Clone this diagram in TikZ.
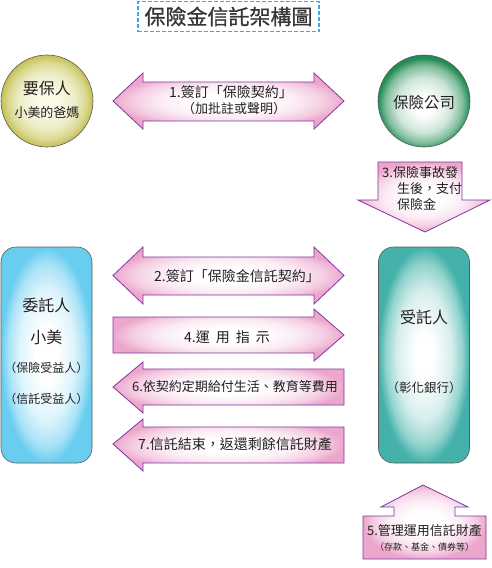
\documentclass[tikz,border=0pt]{standalone}
\usepackage{fontspec}
\setmainfont{Noto Sans CJK TC}
\newfontfamily\titlefont{Noto Sans CJK TC}[FakeBold=1]
\usepackage{xcolor}
\usepackage{tikz}
\usetikzlibrary{positioning,calc}

\definecolor{ink}{RGB}{35,31,32}
\definecolor{titleblue}{RGB}{60,170,225}
\definecolor{arrowpink}{RGB}{236,166,204}
\definecolor{arrowline}{RGB}{125,55,165}
\definecolor{olive}{RGB}{196,192,84}
\definecolor{olivein}{RGB}{250,250,232}
\definecolor{leaf}{RGB}{34,140,84}
\definecolor{sky}{RGB}{105,205,240}
\definecolor{teal}{RGB}{68,178,170}
% the path box is met at 25bp
\newcommand{\makeglow}[5]{\pgfdeclareradialshading{#1}{\pgfpoint{0bp}{#4}}{color(0bp)=(#2); color(#5)=(#2); color(15bp)=(#3!22!#2); color(21bp)=(#3!58!#2); color(25bp)=(#3); color(50bp)=(#3)}}
\makeglow{pinkglow}{white}{arrowpink}{0bp}{7bp}
\makeglow{yellowglow}{olivein}{olive}{0bp}{5bp}
\makeglow{greenglow}{white}{leaf}{-3bp}{5bp}
\makeglow{skyglow}{white}{sky}{0bp}{6bp}
\makeglow{tealglow}{white}{teal}{0bp}{5bp}

\begin{document}
\begin{tikzpicture}[x=1pt,y=-1pt,
    lbl/.style={font=\fontsize{13}{15}\selectfont, text=ink, inner sep=0pt},
    bigarrow/.style={draw=arrowline, line width=0.8pt, shading=pinkglow},
    ball/.style={circle, draw=black!65, line width=0.6pt, minimum size=92pt, inner sep=0pt},
    party/.style={rectangle, rounded corners=15pt, draw=black!65, line width=0.6pt, minimum width=91pt, minimum height=216pt, inner sep=0pt}]
    \useasboundingbox (0,0) rectangle (491,568);

    % Title
    \node[draw=titleblue, dash pattern=on 4pt off 2pt, line width=1.2pt, minimum width=181pt, minimum height=30pt, inner sep=0pt, text=ink!90, font=\titlefont\fontsize{21}{21}\selectfont] (title) at (228.5,16.5) {保險金信託架構圖};

    % Step 1: policy holder and insurer
    \node[ball, shading=yellowglow] (holder) at (47,101) {};
    \node[lbl, font=\fontsize{16}{16}\selectfont] (holdername) at (47,88) {要保人};
    \node[lbl] (holderwho) at (47,113) {小美的爸媽};

    \node[ball, shading=greenglow] (insurer) at (424,101) {};
    \node[lbl, font=\fontsize{15.5}{16}\selectfont] (insurername) at (424,103) {保險公司};

    % Arrow 1
    \path[bigarrow] (113,101) -- (143,73) -- (143,82) -- (314,82) -- (314,73) -- (344,101)
        -- (314,129) -- (314,121) -- (143,121) -- (143,129) -- cycle;
    \node[lbl, font=\fontsize{14}{15}\selectfont] (policy) at (231,92) {1.簽訂「保險契約」};
    \node[lbl] (policynote) at (234,109) {（加批註或聲明）};

    % Arrow 3
    \path[bigarrow] (378,162) -- (462,162) -- (462,200) -- (490,200) -- (425,232)
        -- (358,200) -- (378,200) -- cycle;
    \node[lbl, align=left, anchor=north west, font=\fontsize{13}{16}\selectfont] (payout) at (382,166)
        {3.保險事故發\\\hspace{15pt}生後，支付\\\hspace{15pt}保險金};

    % Step 2: settlor and trustee
    \node[party, shading=skyglow] (settlor) at (46.5,355) {};
    \node[lbl, font=\fontsize{16}{16}\selectfont] (settlorname) at (46.5,305) {委託人};
    \node[lbl, font=\fontsize{16}{16}\selectfont] (settlorwho) at (46.5,337) {小美};
    \node[lbl, font=\fontsize{12}{14}\selectfont] (beneficiary1) at (46.5,368) {（保險受益人）};
    \node[lbl, font=\fontsize{12}{14}\selectfont] (beneficiary2) at (46.5,399) {（信託受益人）};

    \node[party, shading=tealglow] (trustee) at (424,355) {};
    \node[lbl, font=\fontsize{16}{16}\selectfont] (trusteename) at (424,317) {受託人};
    \node[lbl, font=\fontsize{12.5}{14}\selectfont] (trusteebank) at (424,388) {（彰化銀行）};

    % Arrow 2
    \path[bigarrow] (113,275.5) -- (143,247) -- (143,257) -- (314,257) -- (314,247) -- (344,275.5)
        -- (314,304) -- (314,295) -- (143,295) -- (143,304) -- cycle;
    \node[lbl, font=\fontsize{14}{15}\selectfont] (trustdeal) at (237,276) {2.簽訂「保險金信託契約」};

    % Arrow 4
    \path[bigarrow] (113,317) -- (314,317) -- (314,309) -- (344,335) -- (314,361)
        -- (314,353) -- (113,353) -- cycle;
    \node[lbl, font=\fontsize{14}{15}\selectfont] (order) at (227,337)
        {4.運\hspace{6pt}用\hspace{6pt}指\hspace{6pt}示};

    % Arrow 6
    \path[bigarrow] (113,387) -- (143,362) -- (143,369) -- (344,369) -- (344,405)
        -- (143,405) -- (143,413) -- cycle;
    \node[lbl] (payments) at (235,387) {6.依契約定期給付生活、教育等費用};

    % Arrow 7
    \path[bigarrow] (113,444) -- (143,419) -- (143,427) -- (344,427) -- (344,463)
        -- (143,463) -- (143,471) -- cycle;
    \node[lbl, font=\fontsize{14}{15}\selectfont] (closing) at (235,444) {7.信託結束，返還剩餘信託財產};

    % Arrow 5
    \path[bigarrow] (423,485) -- (468,507) -- (455,507) -- (455,516) -- (486,516) -- (486,559)
        -- (363,559) -- (363,516) -- (394,516) -- (394,507) -- (381,507) -- cycle;
    \node[lbl] (manage) at (424.5,531) {5.管理運用信託財產};
    \node[lbl, font=\fontsize{9}{10}\selectfont] (assets) at (424.5,547) {（存款、基金、債券等）};
\end{tikzpicture}
\end{document}
